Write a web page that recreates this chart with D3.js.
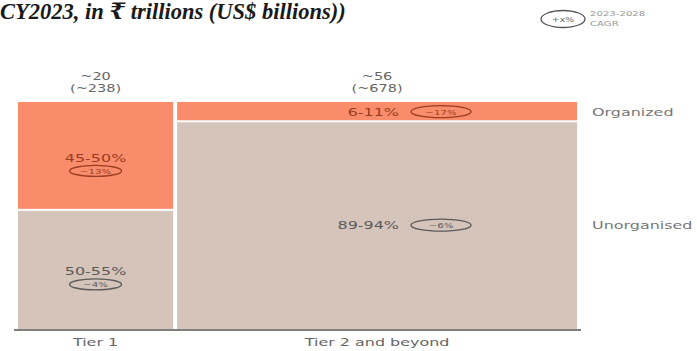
<!DOCTYPE html>
<html><head><meta charset="utf-8">
<script src="https://cdn.jsdelivr.net/npm/d3@7"></script>
<style>body{margin:0;background:#fff}svg{display:block}</style>
</head><body>
<script>
const categories = ["Tier 1", "Tier 2 and beyond"];
// column widths (market size, ₹ trillions)
const marketSize = [21.5, 55];
const marketSizeLabel = ["~20", "~56"];
const marketUsdLabel = ["(~238)", "(~678)"];
const segments = ["Organized", "Unorganised"];
const organizedShare = [47.5, 8.5];
const unorganizedShare = [52.5, 91.5];
const organizedLabel = ["45-50%", "6-11%"];
const unorganizedLabel = ["50-55%", "89-94%"];
const organizedCagr = ["~13%", "~17%"];
const unorganizedCagr = ["~4%", "~6%"];

const W = 697, H = 351;
const svg = d3.select("body").append("svg").attr("width", W).attr("height", H);
const font = "'DejaVu Sans', Verdana, sans-serif";
const SX = 1.45;
const FS = 11;
const colors = {Organized: "#F98D6B", Unorganised: "#D5C4BA"};

function txt(x, y, s, size, color, anchor) {
  return svg.append("text")
    .attr("transform", `translate(${x},${y}) scale(${SX},1)`)
    .attr("text-anchor", anchor || "start")
    .attr("font-family", font).attr("font-size", size).attr("fill", color)
    .text(s);
}

const total = d3.sum(marketSize);
const x = d3.scaleLinear().domain([0, total]).range([18, 577]);
const y = d3.scaleLinear().domain([0, 100]).range([102, 329]);

// title
svg.append("text").attr("x", 0).attr("y", 19)
  .attr("font-family", "'Liberation Serif', 'DejaVu Serif', serif")
  .attr("font-style", "italic").attr("font-weight", "bold")
  .attr("font-size", 22.5).attr("fill", "#1a1a1a")
  .text("CY2023, in ₹ trillions (US$ billions))");

// legend
svg.append("ellipse").attr("cx", 563).attr("cy", 19).attr("rx", 22).attr("ry", 8.5)
  .attr("fill", "none").attr("stroke", "#555").attr("stroke-width", 1.3);
txt(563, 22, "+x%", 6.5, "#666", "middle");
txt(590, 16, "2023-2028", 7, "#999");
txt(590, 26, "CAGR", 7, "#999");

// columns
let cum = 0;
const cols = marketSize.map((v, i) => {
  const c = {i, x0: cum, x1: cum + v};
  cum += v;
  return c;
});

const g = svg.append("g");
cols.forEach(c => {
  const i = c.i;
  const xa = x(c.x0) + (i > 0 ? 2 : 0);
  const xb = x(c.x1) - (i < cols.length - 1 ? 2 : 0);
  const cx = (xa + xb) / 2;
  const yOrgEnd = y(organizedShare[i]);
  g.append("rect").attr("x", xa).attr("y", y(0)).attr("width", xb - xa)
    .attr("height", yOrgEnd - y(0) - 1).attr("fill", colors.Organized);
  g.append("rect").attr("x", xa).attr("y", yOrgEnd + 1).attr("width", xb - xa)
    .attr("height", y(100) - yOrgEnd - 1).attr("fill", colors.Unorganised);

  txt(cx, 80, marketSizeLabel[i], 10, "#666", "middle");
  txt(cx, 92, marketUsdLabel[i], 10, "#666", "middle");
  txt(cx, 346, categories[i], FS, "#666", "middle");

  const orgMid = (y(0) + yOrgEnd) / 2;
  const unMid = (yOrgEnd + y(100)) / 2;
  const drawPair = (label, cagr, midY, color, stacked, centerX) => {
    if (stacked) {
      txt(centerX, midY + 6, label, FS, color, "middle");
      svg.append("ellipse").attr("cx", centerX).attr("cy", midY + 15).attr("rx", 26).attr("ry", 5.5)
        .attr("fill", "none").attr("stroke", color).attr("stroke-width", 1.4);
      txt(centerX, midY + 18, cagr, 7, color, "middle");
    } else {
      txt(centerX - 2, midY + 4, label, FS, color, "end");
      svg.append("ellipse").attr("cx", centerX + 40).attr("cy", midY).attr("rx", 30).attr("ry", 6)
        .attr("fill", "none").attr("stroke", color).attr("stroke-width", 1.4);
      txt(centerX + 40, midY + 3, cagr, 7, color, "middle");
    }
  };
  const stacked = i === 0;
  const lx = stacked ? cx : 401;
  drawPair(organizedLabel[i], organizedCagr[i], orgMid, "#9a3d22", stacked, lx);
  drawPair(unorganizedLabel[i], unorganizedCagr[i], unMid, "#5a5a5a", stacked, lx);

  if (i === cols.length - 1) {
    txt(592, orgMid + 4, segments[0], FS, "#777");
    txt(592, unMid + 4, segments[1], FS, "#777");
  }
});

// baseline axis
svg.append("line").attr("x1", 14).attr("x2", 581).attr("y1", y(100) + 1).attr("y2", y(100) + 1)
  .attr("stroke", "#555").attr("stroke-width", 1.3);
</script>
</body></html>
